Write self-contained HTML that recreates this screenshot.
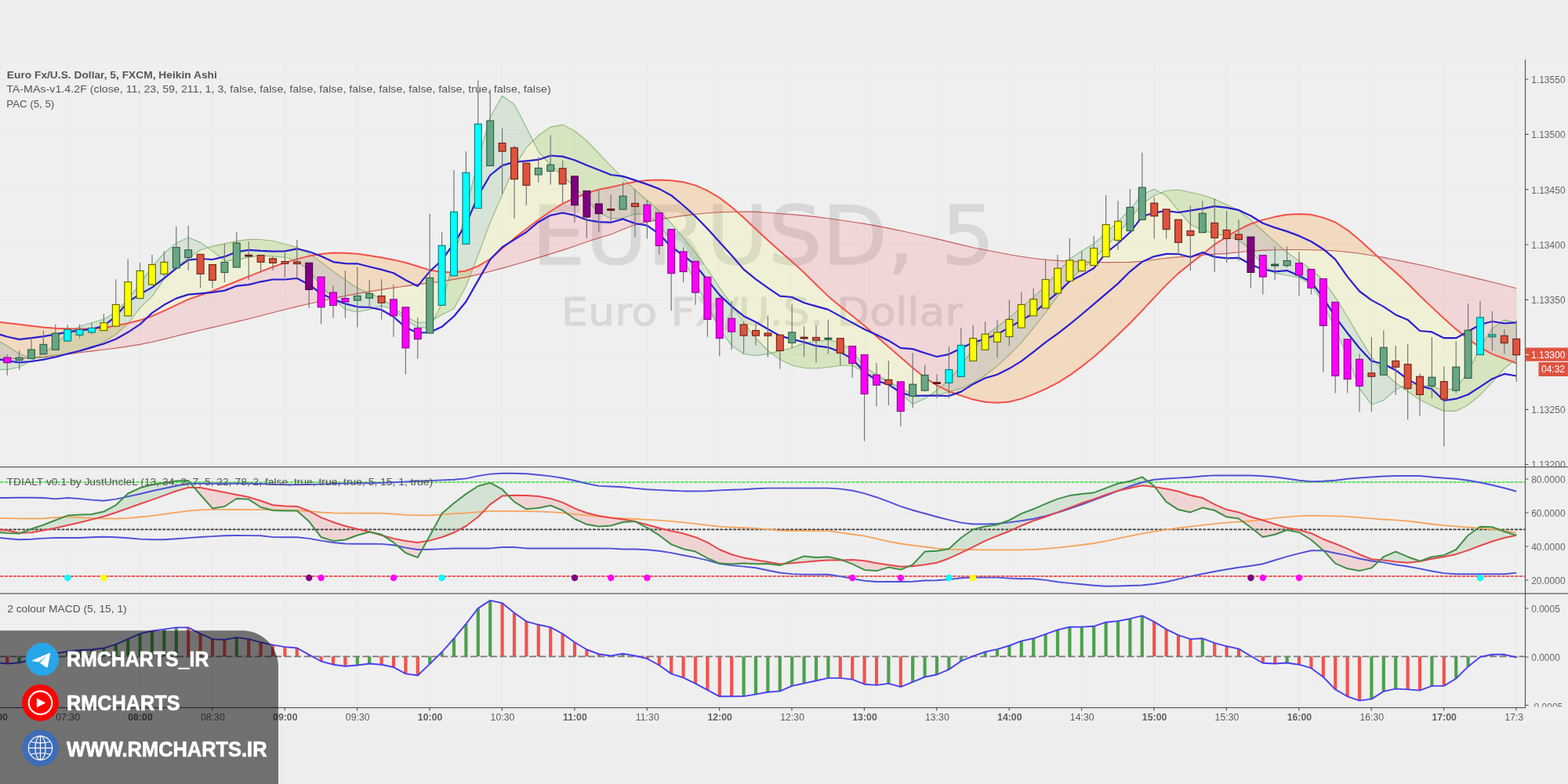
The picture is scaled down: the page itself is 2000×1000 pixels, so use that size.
<!DOCTYPE html>
<html lang="en"><head><meta charset="utf-8"><title>EURUSD 5 - Heikin Ashi chart</title>
<style>html,body{margin:0;padding:0;background:#ededeb;width:2000px;height:1000px}svg{display:block;font-family:"Liberation Sans","DejaVu Sans",sans-serif}.lg{font-size:13.5px;fill:#555}.ax{font-size:12px;fill:#666}.tm{font-size:12.3px;fill:#606060;text-anchor:middle}.wm{font-family:"DejaVu Sans","Liberation Sans",sans-serif;fill:#000;text-anchor:middle}.ov{font-weight:bold;font-size:27px;fill:#fff;stroke:#fff;stroke-width:.7px;stroke-linejoin:round}</style></head><body>
<svg width="2000" height="1000" viewBox="0 0 2000 1000">
<defs><clipPath id="cm"><rect x="0" y="76" width="1945.5" height="519.5"/></clipPath><clipPath id="ct"><rect x="0" y="595.5" width="1945.5" height="161.5"/></clipPath><clipPath id="cd"><rect x="0" y="757" width="1945.5" height="145.5"/></clipPath><clipPath id="cx"><rect x="0" y="902.5" width="1943.5" height="30"/></clipPath><clipPath id="cr"><rect x="1945.5" y="76" width="54.5" height="826.5"/></clipPath></defs>
<rect width="2000" height="1000" fill="#ededeb"/>
<rect x="0" y="76" width="2000" height="849" fill="#efefef"/>
<path d="M86,76V902.5M178.4,76V902.5M270.8,76V902.5M363.2,76V902.5M455.6,76V902.5M548,76V902.5M640.4,76V902.5M732.8,76V902.5M825.2,76V902.5M917.6,76V902.5M1010,76V902.5M1102.4,76V902.5M1194.8,76V902.5M1287.2,76V902.5M1379.6,76V902.5M1472,76V902.5M1564.4,76V902.5M1656.8,76V902.5M1749.2,76V902.5M1841.6,76V902.5M1934,76V902.5M0,101H1945.5M0,171.4H1945.5M0,241.7H1945.5M0,312H1945.5M0,382.3H1945.5M0,452.3H1945.5M0,522.3H1945.5M0,592.5H1945.5M0,611H1945.5M0,654H1945.5M0,697H1945.5M0,740H1945.5M0,776H1945.5M0,838H1945.5M0,899.5H1945.5" stroke="#e9e9e9" stroke-width="1" fill="none"/>
<g clip-path="url(#cm)">
<g opacity=".09" stroke="#000" stroke-linejoin="round">
<text class="wm" x="973.8" y="337.2" font-size="103.5" stroke-width="1.5" textLength="591" lengthAdjust="spacingAndGlyphs">EURUSD, 5</text>
<text class="wm" x="971.8" y="415" font-size="50.5" stroke-width="1.1" textLength="512" lengthAdjust="spacingAndGlyphs">Euro FX/U.S. Dollar</text>
</g>
</g>
<g clip-path="url(#cm)">
<path d="M-6.2,410.3 L9.2,412 L24.6,413.8 L40,415.8 L55.4,417.5 L70.8,418.8 L86.2,419.3 L101.6,419.5 L117,419.2 L132.4,417.9 L147.8,415.5 L163.2,412.3 L178.6,408.5 L194,403.2 L209.4,396.3 L224.8,389.1 L240.2,381.9 L255.6,376.5 L271,371.2 L286.4,365 L301.8,358.8 L317.2,352.6 L332.6,346.4 L348,340.5 L363.4,335.1 L378.8,330.4 L394.2,326.6 L409.6,324 L425,322.5 L440.4,322.8 L455.8,323.8 L471.2,325.9 L486.6,328.6 L502,331.4 L517.4,335 L532.8,339.8 L548.2,344.6 L563.6,347 L579,347.4 L594.4,345.5 L609.8,339.4 L625.2,330.5 L640.6,316.8 L656,303.9 L671.4,292 L686.8,280.3 L702.2,269.5 L717.6,259.9 L733,252.6 L748.4,246.5 L763.8,241.8 L779.2,238.7 L794.6,235.1 L810,231.8 L825.4,230.1 L840.8,229.4 L856.2,230.3 L871.6,232.3 L887,236.4 L902.4,243.1 L917.8,252.3 L933.2,264 L948.6,277.8 L964,292.3 L979.4,306.6 L994.8,320.3 L1010.2,333.7 L1025.6,347.8 L1041,363 L1056.4,377.9 L1071.8,390.7 L1087.2,403 L1102.6,415.6 L1118,429 L1133.4,442.4 L1148.8,455.7 L1164.2,469.3 L1179.6,481.7 L1195,491.7 L1210.4,499.2 L1225.8,504.6 L1241.2,509.6 L1256.6,512.8 L1272,513.7 L1287.4,512.5 L1302.8,508.6 L1318.2,502.9 L1333.6,496.2 L1349,488.4 L1364.4,478.7 L1379.8,467.4 L1395.2,455.3 L1410.6,441.5 L1426,427.1 L1441.4,412.3 L1456.8,396.1 L1472.2,379.6 L1487.6,363.4 L1503,348.6 L1518.4,336.3 L1533.8,324.4 L1549.2,311.8 L1564.6,302 L1580,292.8 L1595.4,285.5 L1610.8,280.4 L1626.2,276.6 L1641.6,273.7 L1657,272.9 L1672.4,273.7 L1687.8,277.6 L1703.2,283.5 L1718.6,293.3 L1734,305.9 L1749.4,320.1 L1764.8,334.2 L1780.2,347.5 L1795.6,361.7 L1811,377.2 L1826.4,391.9 L1841.8,406.3 L1857.2,419.9 L1872.6,432.3 L1888,443.2 L1903.4,451.6 L1918.8,457.5 L1934.2,463.2 L1934.2,367.7 L1918.8,363.7 L1903.4,359.8 L1888,356.1 L1872.6,352.4 L1857.2,348.7 L1841.8,345 L1826.4,341.3 L1811,337.7 L1795.6,334.6 L1780.2,331.5 L1764.8,328.4 L1749.4,325.7 L1734,323.3 L1718.6,321.5 L1703.2,320 L1687.8,319.1 L1672.4,318.7 L1657,318.5 L1641.6,318.5 L1626.2,318.8 L1610.8,319.4 L1595.4,320.3 L1580,321.7 L1564.6,323.4 L1549.2,324.1 L1533.8,325.1 L1518.4,326.8 L1503,327.9 L1487.6,329.3 L1472.2,331.3 L1456.8,333.2 L1441.4,334.4 L1426,334.5 L1410.6,334.6 L1395.2,334.5 L1379.8,333.9 L1364.4,333.3 L1349,332.4 L1333.6,331.2 L1318.2,329.5 L1302.8,327.3 L1287.4,324.7 L1272,321.8 L1256.6,318.8 L1241.2,315.7 L1225.8,312.1 L1210.4,308.4 L1195,304.6 L1179.6,301 L1164.2,297.7 L1148.8,294.3 L1133.4,291.1 L1118,288.1 L1102.6,285.4 L1087.2,283 L1071.8,280.7 L1056.4,278.5 L1041,276.6 L1025.6,274.9 L1010.2,273.6 L994.8,272.5 L979.4,271.2 L964,270.1 L948.6,270 L933.2,270.3 L917.8,270.7 L902.4,271.7 L887,273.3 L871.6,275.1 L856.2,277.5 L840.8,280.1 L825.4,283.1 L810,286.8 L794.6,292.5 L779.2,299 L763.8,303.6 L748.4,308.5 L733,314 L717.6,319.1 L702.2,323.9 L686.8,328.6 L671.4,333.2 L656,337.7 L640.6,342.1 L625.2,346.2 L609.8,350.1 L594.4,353.6 L579,356.4 L563.6,358.7 L548.2,360.9 L532.8,362.9 L517.4,364.9 L502,367.1 L486.6,369.4 L471.2,371.9 L455.8,374.6 L440.4,377.4 L425,380.6 L409.6,384 L394.2,387.5 L378.8,391.1 L363.4,394.8 L348,398.8 L332.6,402.8 L317.2,406.7 L301.8,410.4 L286.4,414 L271,417.6 L255.6,421.2 L240.2,424.9 L224.8,428.8 L209.4,432.6 L194,436.2 L178.6,439.4 L163.2,441.9 L147.8,444.1 L132.4,446 L117,447.9 L101.6,449.8 L86.2,451.9 L70.8,454 L55.4,455.6 L40,456.5 L24.6,457.1 L9.2,457.7 L-6.2,458.2Z" fill="#ff0000" fill-opacity=".1"/>
<path d="M-6.2,432.1 L9.2,441.3 L24.6,451.3 L40,456.7 L55.4,455.9 L70.8,452.8 L86.2,451.2 L101.6,448.7 L117,443.9 L132.4,436.3 L147.8,426.5 L163.2,413 L178.6,392.6 L194,378.2 L209.4,355.8 L224.8,340.4 L240.2,329 L255.6,318.7 L271,314.1 L286.4,310.9 L301.8,307.6 L317.2,305.4 L332.6,305.5 L348,307.3 L363.4,311.3 L378.8,315.6 L394.2,323.5 L409.6,334.4 L425,345.9 L440.4,357.1 L455.8,367.4 L471.2,374.3 L486.6,380.8 L502,391.5 L517.4,403.8 L532.8,411.8 L548.2,410.5 L563.6,401.5 L579,393.7 L594.4,365 L609.8,325.5 L625.2,283.9 L640.6,248.4 L656,213.1 L671.4,188.3 L686.8,172.6 L702.2,162.1 L717.6,159.1 L733,167 L748.4,179.5 L763.8,195.6 L779.2,211.9 L794.6,227.2 L810,242.3 L825.4,255.5 L840.8,268.6 L856.2,284.8 L871.6,303.2 L887,321.9 L902.4,343.5 L917.8,366.8 L933.2,388.5 L948.6,411.5 L964,431.5 L979.4,447 L994.8,458.6 L1010.2,466 L1025.6,469.3 L1041,470 L1056.4,468.5 L1071.8,466.3 L1087.2,466.2 L1102.6,474.8 L1118,481.6 L1133.4,486.8 L1148.8,494.6 L1164.2,503.6 L1179.6,504.9 L1195,504.3 L1210.4,499.9 L1225.8,495.4 L1241.2,488.5 L1256.6,478.7 L1272,466.9 L1287.4,452.6 L1302.8,437.1 L1318.2,418.2 L1333.6,399 L1349,377.6 L1364.4,357.9 L1379.8,342.9 L1395.2,330.7 L1410.6,314.4 L1426,298.7 L1441.4,278.9 L1456.8,260.1 L1472.2,249.5 L1487.6,243.3 L1503,242.3 L1518.4,245.2 L1533.8,248.8 L1549.2,253.9 L1564.6,261.1 L1580,268.2 L1595.4,280.7 L1610.8,294.5 L1626.2,308.4 L1641.6,321.7 L1657,332.9 L1672.4,343.7 L1687.8,357.5 L1703.2,379.1 L1718.6,403.8 L1734,430.1 L1749.4,455.3 L1764.8,474.7 L1780.2,488.3 L1795.6,499.2 L1811,509.9 L1826.4,517.6 L1841.8,524.4 L1857.2,524.4 L1872.6,516.4 L1888,503.9 L1903.4,487.4 L1918.8,470 L1934.2,457.9 L1934.2,463.2 L1918.8,457.5 L1903.4,451.6 L1888,443.2 L1872.6,432.3 L1857.2,419.9 L1841.8,406.3 L1826.4,391.9 L1811,377.2 L1795.6,361.7 L1780.2,347.5 L1764.8,334.2 L1749.4,320.1 L1734,305.9 L1718.6,293.3 L1703.2,283.5 L1687.8,277.6 L1672.4,273.7 L1657,272.9 L1641.6,273.7 L1626.2,276.6 L1610.8,280.4 L1595.4,285.5 L1580,292.8 L1564.6,302 L1549.2,311.8 L1533.8,324.4 L1518.4,336.3 L1503,348.6 L1487.6,363.4 L1472.2,379.6 L1456.8,396.1 L1441.4,412.3 L1426,427.1 L1410.6,441.5 L1395.2,455.3 L1379.8,467.4 L1364.4,478.7 L1349,488.4 L1333.6,496.2 L1318.2,502.9 L1302.8,508.6 L1287.4,512.5 L1272,513.7 L1256.6,512.8 L1241.2,509.6 L1225.8,504.6 L1210.4,499.2 L1195,491.7 L1179.6,481.7 L1164.2,469.3 L1148.8,455.7 L1133.4,442.4 L1118,429 L1102.6,415.6 L1087.2,403 L1071.8,390.7 L1056.4,377.9 L1041,363 L1025.6,347.8 L1010.2,333.7 L994.8,320.3 L979.4,306.6 L964,292.3 L948.6,277.8 L933.2,264 L917.8,252.3 L902.4,243.1 L887,236.4 L871.6,232.3 L856.2,230.3 L840.8,229.4 L825.4,230.1 L810,231.8 L794.6,235.1 L779.2,238.7 L763.8,241.8 L748.4,246.5 L733,252.6 L717.6,259.9 L702.2,269.5 L686.8,280.3 L671.4,292 L656,303.9 L640.6,316.8 L625.2,330.5 L609.8,339.4 L594.4,345.5 L579,347.4 L563.6,347 L548.2,344.6 L532.8,339.8 L517.4,335 L502,331.4 L486.6,328.6 L471.2,325.9 L455.8,323.8 L440.4,322.8 L425,322.5 L409.6,324 L394.2,326.6 L378.8,330.4 L363.4,335.1 L348,340.5 L332.6,346.4 L317.2,352.6 L301.8,358.8 L286.4,365 L271,371.2 L255.6,376.5 L240.2,381.9 L224.8,389.1 L209.4,396.3 L194,403.2 L178.6,408.5 L163.2,412.3 L147.8,415.5 L132.4,417.9 L117,419.2 L101.6,419.5 L86.2,419.3 L70.8,418.8 L55.4,417.5 L40,415.8 L24.6,413.8 L9.2,412 L-6.2,410.3Z" fill="#ffff00" fill-opacity=".1"/>
<path d="M-6.2,471.4 L9.2,471.4 L24.6,468.2 L40,460 L55.4,451.1 L70.8,439.1 L86.2,424.9 L101.6,416.2 L117,411.5 L132.4,407.4 L147.8,397.9 L163.2,381.5 L178.6,362.1 L194,340.2 L209.4,322.6 L224.8,310.1 L240.2,303 L255.6,309.1 L271,320.4 L286.4,332.6 L301.8,331.9 L317.2,328.1 L332.6,326 L348,326.9 L363.4,328.3 L378.8,332.7 L394.2,345.5 L409.6,364.3 L425,380.9 L440.4,394.8 L455.8,398 L471.2,394.6 L486.6,390 L502,394.5 L517.4,408.1 L532.8,417.6 L548.2,418.1 L563.6,387.1 L579,331 L594.4,266.8 L609.8,204.3 L625.2,149.5 L640.6,122.3 L656,133.1 L671.4,162.6 L686.8,193.7 L702.2,210.5 L717.6,224.5 L733,238.5 L748.4,255.3 L763.8,271.1 L779.2,278.8 L794.6,278.4 L810,272.9 L825.4,273.5 L840.8,286 L856.2,307.1 L871.6,331.2 L887,359.3 L902.4,389.9 L917.8,419.5 L933.2,440.7 L948.6,451.5 L964,453.7 L979.4,451.4 L994.8,447.6 L1010.2,443.7 L1025.6,437.6 L1041,435 L1056.4,433.8 L1071.8,437 L1087.2,447.2 L1102.6,468 L1118,477.8 L1133.4,486.3 L1148.8,501.6 L1164.2,515.6 L1179.6,508.6 L1195,497.7 L1210.4,484.8 L1225.8,466.9 L1241.2,444.8 L1256.6,428.3 L1272,417 L1287.4,405.1 L1302.8,391.4 L1318.2,379.4 L1333.6,364.4 L1349,347.4 L1364.4,330.5 L1379.8,320.1 L1395.2,311.1 L1410.6,297 L1426,282.8 L1441.4,267 L1456.8,248.2 L1472.2,241.3 L1487.6,249.8 L1503,268.7 L1518.4,286.2 L1533.8,293.8 L1549.2,297.6 L1564.6,301.2 L1580,306.3 L1595.4,319 L1610.8,338.3 L1626.2,348.4 L1641.6,351.3 L1657,354.2 L1672.4,362.5 L1687.8,387 L1703.2,419.4 L1718.6,454.2 L1734,495.6 L1749.4,516.2 L1764.8,510.6 L1780.2,497.2 L1795.6,489.8 L1811,490.7 L1826.4,493.1 L1841.8,497.5 L1857.2,495.1 L1872.6,474.6 L1888,442.9 L1903.4,419 L1918.8,408.1 L1934.2,411.6 L1934.2,457.9 L1918.8,470 L1903.4,487.4 L1888,503.9 L1872.6,516.4 L1857.2,524.4 L1841.8,524.4 L1826.4,517.6 L1811,509.9 L1795.6,499.2 L1780.2,488.3 L1764.8,474.7 L1749.4,455.3 L1734,430.1 L1718.6,403.8 L1703.2,379.1 L1687.8,357.5 L1672.4,343.7 L1657,332.9 L1641.6,321.7 L1626.2,308.4 L1610.8,294.5 L1595.4,280.7 L1580,268.2 L1564.6,261.1 L1549.2,253.9 L1533.8,248.8 L1518.4,245.2 L1503,242.3 L1487.6,243.3 L1472.2,249.5 L1456.8,260.1 L1441.4,278.9 L1426,298.7 L1410.6,314.4 L1395.2,330.7 L1379.8,342.9 L1364.4,357.9 L1349,377.6 L1333.6,399 L1318.2,418.2 L1302.8,437.1 L1287.4,452.6 L1272,466.9 L1256.6,478.7 L1241.2,488.5 L1225.8,495.4 L1210.4,499.9 L1195,504.3 L1179.6,504.9 L1164.2,503.6 L1148.8,494.6 L1133.4,486.8 L1118,481.6 L1102.6,474.8 L1087.2,466.2 L1071.8,466.3 L1056.4,468.5 L1041,470 L1025.6,469.3 L1010.2,466 L994.8,458.6 L979.4,447 L964,431.5 L948.6,411.5 L933.2,388.5 L917.8,366.8 L902.4,343.5 L887,321.9 L871.6,303.2 L856.2,284.8 L840.8,268.6 L825.4,255.5 L810,242.3 L794.6,227.2 L779.2,211.9 L763.8,195.6 L748.4,179.5 L733,167 L717.6,159.1 L702.2,162.1 L686.8,172.6 L671.4,188.3 L656,213.1 L640.6,248.4 L625.2,283.9 L609.8,325.5 L594.4,365 L579,393.7 L563.6,401.5 L548.2,410.5 L532.8,411.8 L517.4,403.8 L502,391.5 L486.6,380.8 L471.2,374.3 L455.8,367.4 L440.4,357.1 L425,345.9 L409.6,334.4 L394.2,323.5 L378.8,315.6 L363.4,311.3 L348,307.3 L332.6,305.5 L317.2,305.4 L301.8,307.6 L286.4,310.9 L271,314.1 L255.6,318.7 L240.2,329 L224.8,340.4 L209.4,355.8 L194,378.2 L178.6,392.6 L163.2,413 L147.8,426.5 L132.4,436.3 L117,443.9 L101.6,448.7 L86.2,451.2 L70.8,452.8 L55.4,455.9 L40,456.7 L24.6,451.3 L9.2,441.3 L-6.2,432.1Z" fill="#008000" fill-opacity=".1"/>
<path d="M-6.2,458.2 L9.2,457.7 L24.6,457.1 L40,456.5 L55.4,455.6 L70.8,454 L86.2,451.9 L101.6,449.8 L117,447.9 L132.4,446 L147.8,444.1 L163.2,441.9 L178.6,439.4 L194,436.2 L209.4,432.6 L224.8,428.8 L240.2,424.9 L255.6,421.2 L271,417.6 L286.4,414 L301.8,410.4 L317.2,406.7 L332.6,402.8 L348,398.8 L363.4,394.8 L378.8,391.1 L394.2,387.5 L409.6,384 L425,380.6 L440.4,377.4 L455.8,374.6 L471.2,371.9 L486.6,369.4 L502,367.1 L517.4,364.9 L532.8,362.9 L548.2,360.9 L563.6,358.7 L579,356.4 L594.4,353.6 L609.8,350.1 L625.2,346.2 L640.6,342.1 L656,337.7 L671.4,333.2 L686.8,328.6 L702.2,323.9 L717.6,319.1 L733,314 L748.4,308.5 L763.8,303.6 L779.2,299 L794.6,292.5 L810,286.8 L825.4,283.1 L840.8,280.1 L856.2,277.5 L871.6,275.1 L887,273.3 L902.4,271.7 L917.8,270.7 L933.2,270.3 L948.6,270 L964,270.1 L979.4,271.2 L994.8,272.5 L1010.2,273.6 L1025.6,274.9 L1041,276.6 L1056.4,278.5 L1071.8,280.7 L1087.2,283 L1102.6,285.4 L1118,288.1 L1133.4,291.1 L1148.8,294.3 L1164.2,297.7 L1179.6,301 L1195,304.6 L1210.4,308.4 L1225.8,312.1 L1241.2,315.7 L1256.6,318.8 L1272,321.8 L1287.4,324.7 L1302.8,327.3 L1318.2,329.5 L1333.6,331.2 L1349,332.4 L1364.4,333.3 L1379.8,333.9 L1395.2,334.5 L1410.6,334.6 L1426,334.5 L1441.4,334.4 L1456.8,333.2 L1472.2,331.3 L1487.6,329.3 L1503,327.9 L1518.4,326.8 L1533.8,325.1 L1549.2,324.1 L1564.6,323.4 L1580,321.7 L1595.4,320.3 L1610.8,319.4 L1626.2,318.8 L1641.6,318.5 L1657,318.5 L1672.4,318.7 L1687.8,319.1 L1703.2,320 L1718.6,321.5 L1734,323.3 L1749.4,325.7 L1764.8,328.4 L1780.2,331.5 L1795.6,334.6 L1811,337.7 L1826.4,341.3 L1841.8,345 L1857.2,348.7 L1872.6,352.4 L1888,356.1 L1903.4,359.8 L1918.8,363.7 L1934.2,367.7" fill="none" stroke="#b22222" stroke-opacity=".7" stroke-width="1.1" stroke-linejoin="round"/>
<path d="M-6.2,432.1 L9.2,441.3 L24.6,451.3 L40,456.7 L55.4,455.9 L70.8,452.8 L86.2,451.2 L101.6,448.7 L117,443.9 L132.4,436.3 L147.8,426.5 L163.2,413 L178.6,392.6 L194,378.2 L209.4,355.8 L224.8,340.4 L240.2,329 L255.6,318.7 L271,314.1 L286.4,310.9 L301.8,307.6 L317.2,305.4 L332.6,305.5 L348,307.3 L363.4,311.3 L378.8,315.6 L394.2,323.5 L409.6,334.4 L425,345.9 L440.4,357.1 L455.8,367.4 L471.2,374.3 L486.6,380.8 L502,391.5 L517.4,403.8 L532.8,411.8 L548.2,410.5 L563.6,401.5 L579,393.7 L594.4,365 L609.8,325.5 L625.2,283.9 L640.6,248.4 L656,213.1 L671.4,188.3 L686.8,172.6 L702.2,162.1 L717.6,159.1 L733,167 L748.4,179.5 L763.8,195.6 L779.2,211.9 L794.6,227.2 L810,242.3 L825.4,255.5 L840.8,268.6 L856.2,284.8 L871.6,303.2 L887,321.9 L902.4,343.5 L917.8,366.8 L933.2,388.5 L948.6,411.5 L964,431.5 L979.4,447 L994.8,458.6 L1010.2,466 L1025.6,469.3 L1041,470 L1056.4,468.5 L1071.8,466.3 L1087.2,466.2 L1102.6,474.8 L1118,481.6 L1133.4,486.8 L1148.8,494.6 L1164.2,503.6 L1179.6,504.9 L1195,504.3 L1210.4,499.9 L1225.8,495.4 L1241.2,488.5 L1256.6,478.7 L1272,466.9 L1287.4,452.6 L1302.8,437.1 L1318.2,418.2 L1333.6,399 L1349,377.6 L1364.4,357.9 L1379.8,342.9 L1395.2,330.7 L1410.6,314.4 L1426,298.7 L1441.4,278.9 L1456.8,260.1 L1472.2,249.5 L1487.6,243.3 L1503,242.3 L1518.4,245.2 L1533.8,248.8 L1549.2,253.9 L1564.6,261.1 L1580,268.2 L1595.4,280.7 L1610.8,294.5 L1626.2,308.4 L1641.6,321.7 L1657,332.9 L1672.4,343.7 L1687.8,357.5 L1703.2,379.1 L1718.6,403.8 L1734,430.1 L1749.4,455.3 L1764.8,474.7 L1780.2,488.3 L1795.6,499.2 L1811,509.9 L1826.4,517.6 L1841.8,524.4 L1857.2,524.4 L1872.6,516.4 L1888,503.9 L1903.4,487.4 L1918.8,470 L1934.2,457.9" fill="none" stroke="#5a9338" stroke-opacity=".55" stroke-width="1.15" stroke-linejoin="round"/>
<path d="M-6.2,471.4 L9.2,471.4 L24.6,468.2 L40,460 L55.4,451.1 L70.8,439.1 L86.2,424.9 L101.6,416.2 L117,411.5 L132.4,407.4 L147.8,397.9 L163.2,381.5 L178.6,362.1 L194,340.2 L209.4,322.6 L224.8,310.1 L240.2,303 L255.6,309.1 L271,320.4 L286.4,332.6 L301.8,331.9 L317.2,328.1 L332.6,326 L348,326.9 L363.4,328.3 L378.8,332.7 L394.2,345.5 L409.6,364.3 L425,380.9 L440.4,394.8 L455.8,398 L471.2,394.6 L486.6,390 L502,394.5 L517.4,408.1 L532.8,417.6 L548.2,418.1 L563.6,387.1 L579,331 L594.4,266.8 L609.8,204.3 L625.2,149.5 L640.6,122.3 L656,133.1 L671.4,162.6 L686.8,193.7 L702.2,210.5 L717.6,224.5 L733,238.5 L748.4,255.3 L763.8,271.1 L779.2,278.8 L794.6,278.4 L810,272.9 L825.4,273.5 L840.8,286 L856.2,307.1 L871.6,331.2 L887,359.3 L902.4,389.9 L917.8,419.5 L933.2,440.7 L948.6,451.5 L964,453.7 L979.4,451.4 L994.8,447.6 L1010.2,443.7 L1025.6,437.6 L1041,435 L1056.4,433.8 L1071.8,437 L1087.2,447.2 L1102.6,468 L1118,477.8 L1133.4,486.3 L1148.8,501.6 L1164.2,515.6 L1179.6,508.6 L1195,497.7 L1210.4,484.8 L1225.8,466.9 L1241.2,444.8 L1256.6,428.3 L1272,417 L1287.4,405.1 L1302.8,391.4 L1318.2,379.4 L1333.6,364.4 L1349,347.4 L1364.4,330.5 L1379.8,320.1 L1395.2,311.1 L1410.6,297 L1426,282.8 L1441.4,267 L1456.8,248.2 L1472.2,241.3 L1487.6,249.8 L1503,268.7 L1518.4,286.2 L1533.8,293.8 L1549.2,297.6 L1564.6,301.2 L1580,306.3 L1595.4,319 L1610.8,338.3 L1626.2,348.4 L1641.6,351.3 L1657,354.2 L1672.4,362.5 L1687.8,387 L1703.2,419.4 L1718.6,454.2 L1734,495.6 L1749.4,516.2 L1764.8,510.6 L1780.2,497.2 L1795.6,489.8 L1811,490.7 L1826.4,493.1 L1841.8,497.5 L1857.2,495.1 L1872.6,474.6 L1888,442.9 L1903.4,419 L1918.8,408.1 L1934.2,411.6" fill="none" stroke="#3f9a4a" stroke-opacity=".55" stroke-width="1.15" stroke-linejoin="round"/>
<path d="M-6.2,410.3 L9.2,412 L24.6,413.8 L40,415.8 L55.4,417.5 L70.8,418.8 L86.2,419.3 L101.6,419.5 L117,419.2 L132.4,417.9 L147.8,415.5 L163.2,412.3 L178.6,408.5 L194,403.2 L209.4,396.3 L224.8,389.1 L240.2,381.9 L255.6,376.5 L271,371.2 L286.4,365 L301.8,358.8 L317.2,352.6 L332.6,346.4 L348,340.5 L363.4,335.1 L378.8,330.4 L394.2,326.6 L409.6,324 L425,322.5 L440.4,322.8 L455.8,323.8 L471.2,325.9 L486.6,328.6 L502,331.4 L517.4,335 L532.8,339.8 L548.2,344.6 L563.6,347 L579,347.4 L594.4,345.5 L609.8,339.4 L625.2,330.5 L640.6,316.8 L656,303.9 L671.4,292 L686.8,280.3 L702.2,269.5 L717.6,259.9 L733,252.6 L748.4,246.5 L763.8,241.8 L779.2,238.7 L794.6,235.1 L810,231.8 L825.4,230.1 L840.8,229.4 L856.2,230.3 L871.6,232.3 L887,236.4 L902.4,243.1 L917.8,252.3 L933.2,264 L948.6,277.8 L964,292.3 L979.4,306.6 L994.8,320.3 L1010.2,333.7 L1025.6,347.8 L1041,363 L1056.4,377.9 L1071.8,390.7 L1087.2,403 L1102.6,415.6 L1118,429 L1133.4,442.4 L1148.8,455.7 L1164.2,469.3 L1179.6,481.7 L1195,491.7 L1210.4,499.2 L1225.8,504.6 L1241.2,509.6 L1256.6,512.8 L1272,513.7 L1287.4,512.5 L1302.8,508.6 L1318.2,502.9 L1333.6,496.2 L1349,488.4 L1364.4,478.7 L1379.8,467.4 L1395.2,455.3 L1410.6,441.5 L1426,427.1 L1441.4,412.3 L1456.8,396.1 L1472.2,379.6 L1487.6,363.4 L1503,348.6 L1518.4,336.3 L1533.8,324.4 L1549.2,311.8 L1564.6,302 L1580,292.8 L1595.4,285.5 L1610.8,280.4 L1626.2,276.6 L1641.6,273.7 L1657,272.9 L1672.4,273.7 L1687.8,277.6 L1703.2,283.5 L1718.6,293.3 L1734,305.9 L1749.4,320.1 L1764.8,334.2 L1780.2,347.5 L1795.6,361.7 L1811,377.2 L1826.4,391.9 L1841.8,406.3 L1857.2,419.9 L1872.6,432.3 L1888,443.2 L1903.4,451.6 L1918.8,457.5 L1934.2,463.2" fill="none" stroke="#f4504a" stroke-width="2.0" stroke-linejoin="round"/>
<path d="M-6.2,424.9 L9.2,429.5 L24.6,432.8 L40,431.1 L55.4,429.2 L70.8,426.3 L86.2,423.6 L101.6,421.3 L117,419.9 L132.4,415.7 L147.8,403.4 L163.2,385.1 L178.6,375.3 L194,366.6 L209.4,354.9 L224.8,342.4 L240.2,331.6 L255.6,330 L271,331 L286.4,327.4 L301.8,321.3 L317.2,318.8 L332.6,319.9 L348,320.6 L363.4,320.3 L378.8,317.3 L394.2,321 L409.6,326.8 L425,334.1 L440.4,336.2 L455.8,336.3 L471.2,340.2 L486.6,343.9 L502,348.3 L517.4,357.2 L532.8,364.9 L548.2,346.1 L563.6,332 L579,310.1 L594.4,286.1 L609.8,249.9 L625.2,223.5 L640.6,211.1 L656,206.6 L671.4,205.3 L686.8,203.7 L702.2,198.5 L717.6,199.6 L733,204.2 L748.4,210.8 L763.8,216.8 L779.2,223 L794.6,224.9 L810,229.9 L825.4,235.1 L840.8,240.9 L856.2,249.2 L871.6,262 L887,276 L902.4,291.8 L917.8,308.8 L933.2,325.8 L948.6,343.6 L964,356.1 L979.4,367.1 L994.8,377.6 L1010.2,379 L1025.6,386.3 L1041,390.6 L1056.4,394.9 L1071.8,403.4 L1087.2,411.6 L1102.6,420 L1118,426.9 L1133.4,434.4 L1148.8,443.9 L1164.2,445.1 L1179.6,450.3 L1195,455 L1210.4,451.8 L1225.8,444.3 L1241.2,436.8 L1256.6,432.2 L1272,426.4 L1287.4,417.6 L1302.8,408.6 L1318.2,399.6 L1333.6,386 L1349,373.4 L1364.4,358.8 L1379.8,351 L1395.2,342.1 L1410.6,322.6 L1426,310.5 L1441.4,296.3 L1456.8,276.3 L1472.2,271.3 L1487.6,268.8 L1503,271 L1518.4,268.6 L1533.8,266.2 L1549.2,263.1 L1564.6,264.9 L1580,267.9 L1595.4,275.2 L1610.8,284.8 L1626.2,290.4 L1641.6,295.1 L1657,300.9 L1672.4,308 L1687.8,317.7 L1703.2,330.8 L1718.6,352.9 L1734,371.5 L1749.4,382.9 L1764.8,391.1 L1780.2,401.4 L1795.6,407.9 L1811,422 L1826.4,423.4 L1841.8,431.2 L1857.2,431.2 L1872.6,422.8 L1888,414 L1903.4,410 L1918.8,412.5 L1934.2,411.4" fill="none" stroke="#2a1fd0" stroke-width="2.2" stroke-linejoin="round"/>
<path d="M-6.2,457.6 L9.2,460.2 L24.6,462.3 L40,461 L55.4,458.6 L70.8,455.5 L86.2,451.3 L101.6,447.5 L117,442.9 L132.4,438.5 L147.8,432.5 L163.2,423.8 L178.6,413.7 L194,399.1 L209.4,388.8 L224.8,380.6 L240.2,375.6 L255.6,374.3 L271,372.9 L286.4,370.6 L301.8,364.7 L317.2,363.1 L332.6,359.3 L348,356.5 L363.4,356.5 L378.8,355 L394.2,362.9 L409.6,374.5 L425,381.6 L440.4,387.4 L455.8,391.3 L471.2,392 L486.6,395.2 L502,404 L517.4,417.8 L532.8,424.5 L548.2,424 L563.6,416.8 L579,403.5 L594.4,384.7 L609.8,357.6 L625.2,331 L640.6,315.2 L656,305.6 L671.4,296 L686.8,283.2 L702.2,274.6 L717.6,271.5 L733,274.7 L748.4,280.5 L763.8,283.2 L779.2,283.7 L794.6,279.4 L810,285 L825.4,287.6 L840.8,298.3 L856.2,315.2 L871.6,325.7 L887,338.2 L902.4,357.1 L917.8,376.4 L933.2,390.6 L948.6,403.2 L964,410.8 L979.4,419.7 L994.8,428.4 L1010.2,432.6 L1025.6,436.4 L1041,441.2 L1056.4,443.1 L1071.8,449.1 L1087.2,457.9 L1102.6,474.4 L1118,485.3 L1133.4,490.6 L1148.8,500.8 L1164.2,505.2 L1179.6,504.5 L1195,504.6 L1210.4,505 L1225.8,499.6 L1241.2,489.9 L1256.6,482.2 L1272,477.8 L1287.4,470.1 L1302.8,460.6 L1318.2,448.9 L1333.6,436.7 L1349,425.7 L1364.4,413.7 L1379.8,401 L1395.2,387.8 L1410.6,374.9 L1426,361.6 L1441.4,346.3 L1456.8,333.9 L1472.2,327.1 L1487.6,323.8 L1503,324 L1518.4,328 L1533.8,321.9 L1549.2,327.6 L1564.6,329.4 L1580,328.8 L1595.4,337.2 L1610.8,343.7 L1626.2,346.3 L1641.6,345.1 L1657,351.8 L1672.4,359.4 L1687.8,380.1 L1703.2,404.2 L1718.6,424.8 L1734,444 L1749.4,460.5 L1764.8,464.2 L1780.2,472.2 L1795.6,483.9 L1811,492.1 L1826.4,496.3 L1841.8,511 L1857.2,508.7 L1872.6,503.3 L1888,493.4 L1903.4,483.2 L1918.8,476.9 L1934.2,479.5" fill="none" stroke="#2a1fd0" stroke-width="2.2" stroke-linejoin="round"/>
<path d="M9.2,452.2V478.8M24.6,447V471.8M40,431V457.4M55.4,421.4V451.6M70.8,413.6V446.2M86.2,414.2V435M101.6,413.4V431.4M117,411.8V426.6M132.4,400.2V421.6M147.8,356.2V416.2M163.2,330.6V402.9M178.6,335V380.6M194,325V363M209.4,320.6V352.5M224.8,288.5V341.9M240.2,287.5V345M255.6,324.4V366.9M271,337.5V367.5M286.4,311V360M301.8,296V341M317.2,308V357M332.6,325.6V347.5M348,327V344.8M363.4,322.5V353.8M378.8,306V353.8M394.2,335.3V393M409.6,353.2V413.2M425,364.2V405.6M440.4,345V405.6M455.8,340.6V417.5M471.2,357.3V392.5M486.6,356.3V407.5M502,362.8V429.7M517.4,391.9V477.5M532.8,405V457.5M548.2,273V425M563.6,296.2V389.4M579,216.9V351.9M594.4,193V311.4M609.8,102.5V265.6M625.2,113.8V211.5M640.6,163.8V247.5M656,186V278.8M671.4,208.1V261.9M686.8,200V233.1M702.2,172.5V235.6M717.6,204.4V258.8M733,224.8V283.8M748.4,243.5V303.8M763.8,241.2V296M779.2,248V283.8M794.6,231.9V267.1M810,241V302.5M825.4,255V304.4M840.8,271.5V324.8M856.2,292.5V396.2M871.6,315.6V360M887,333.4V388.8M902.4,353.4V429.7M917.8,380.6V454.4M933.2,383.8V446.2M948.6,410V451.2M964,413.8V440.6M979.4,402.5V455.6M994.8,427.2V470.6M1010.2,387.4V443.8M1025.6,416.2V455M1041,415V462.5M1056.4,408V451.5M1071.8,431.5V466.2M1087.2,441.5V481.4M1102.6,452.5V562.5M1118,463.1V518.5M1133.4,460V516.9M1148.8,486.9V543.8M1164.2,450V520.6M1179.6,465.2V499.4M1195,477.5V508M1210.4,441.9V508M1225.8,418.1V480.4M1241.2,414.8V460.4M1256.6,410V446.2M1272,408V456.2M1287.4,382.5V441.2M1302.8,372.5V418.1M1318.2,368.1V402.9M1333.6,330V393.1M1349,325V374M1364.4,304V358.5M1379.8,320.6V347M1395.2,301.2V338.5M1410.6,249V327.5M1426,256.2V318.8M1441.4,241.2V294.4M1456.8,194.8V280.2M1472.2,251.9V304.8M1487.6,266.9V304.8M1503,280.2V324.4M1518.4,262.2V345M1533.8,256.2V296.6M1549.2,253.1V347M1564.6,268.8V335M1580,280V332.5M1595.4,302.2V367.5M1610.8,325.6V375.6M1626.2,314.4V356.9M1641.6,314.4V341.2M1657,321V377.5M1672.4,343.5V375.6M1687.8,355.6V475M1703.2,385.4V501.2M1718.6,432.8V501.2M1734,451.2V525.6M1749.4,430V525M1764.8,421.2V478.3M1780.2,441.1V503.8M1795.6,438.8V535M1811,476.2V530.6M1826.4,430V508.1M1841.8,467.5V569.4M1857.2,435V501.4M1872.6,387.2V482.5M1888,383.9V452.5M1903.4,396.9V447.5M1918.8,420.1V451.2M1934.2,409V486.9" stroke="#777" stroke-width="1.2" fill="none"/>
<g fill="#ff00ff" stroke="#8a0a8a" stroke-width="1.15"><rect x="4.8" y="456" width="8.8" height="6.6"/><rect x="405.2" y="353.2" width="8.8" height="38.6"/><rect x="420.6" y="373" width="8.8" height="16.5"/><rect x="436" y="380.6" width="8.8" height="4.4"/><rect x="497.6" y="381.9" width="8.8" height="20.9"/><rect x="513" y="391.9" width="8.8" height="51.9"/><rect x="528.4" y="418.5" width="8.8" height="14.1"/><rect x="821" y="261.2" width="8.8" height="21.2"/><rect x="836.4" y="271.5" width="8.8" height="41.9"/><rect x="851.8" y="292.5" width="8.8" height="56.2"/><rect x="867.2" y="321" width="8.8" height="25.5"/><rect x="882.6" y="333.4" width="8.8" height="39.7"/><rect x="898" y="353.4" width="8.8" height="53.9"/><rect x="913.4" y="380.6" width="8.8" height="50.9"/><rect x="928.8" y="406.2" width="8.8" height="16.9"/><rect x="1082.8" y="441.5" width="8.8" height="22"/><rect x="1098.2" y="452.5" width="8.8" height="50"/><rect x="1113.6" y="478.1" width="8.8" height="13.1"/><rect x="1144.4" y="486.9" width="8.8" height="37.7"/><rect x="1606.4" y="325.6" width="8.8" height="27.5"/><rect x="1652.6" y="335.6" width="8.8" height="15.4"/><rect x="1668" y="343.5" width="8.8" height="23.8"/><rect x="1683.4" y="355.6" width="8.8" height="59.8"/><rect x="1698.8" y="385.4" width="8.8" height="94"/><rect x="1714.2" y="432.8" width="8.8" height="50.8"/><rect x="1729.6" y="458.3" width="8.8" height="34.2"/></g>
<g fill="#69a685" stroke="#2f5f47" stroke-width="1.15"><rect x="20.2" y="456.2" width="8.8" height="3.2"/><rect x="35.6" y="446" width="8.8" height="11.4"/><rect x="51" y="439.4" width="8.8" height="12.2"/><rect x="66.4" y="425" width="8.8" height="21.2"/><rect x="220.4" y="315.6" width="8.8" height="26.3"/><rect x="235.8" y="318.8" width="8.8" height="9.7"/><rect x="282" y="334.4" width="8.8" height="13.1"/><rect x="297.4" y="310" width="8.8" height="31"/><rect x="451.4" y="377.5" width="8.8" height="5.6"/><rect x="466.8" y="374.4" width="8.8" height="5.9"/><rect x="543.8" y="354.4" width="8.8" height="70.6"/><rect x="620.8" y="154" width="8.8" height="57.5"/><rect x="682.4" y="214.4" width="8.8" height="8.5"/><rect x="697.8" y="210.2" width="8.8" height="8.2"/><rect x="790.2" y="250.2" width="8.8" height="16.9"/><rect x="1005.8" y="423.8" width="8.8" height="13.5"/><rect x="1159.8" y="490.2" width="8.8" height="15.1"/><rect x="1175.2" y="478.4" width="8.8" height="19.7"/><rect x="1437" y="264.4" width="8.8" height="30"/><rect x="1452.4" y="239.1" width="8.8" height="41.2"/><rect x="1529.4" y="272.2" width="8.8" height="24.4"/><rect x="1637.2" y="332.5" width="8.8" height="6.2"/><rect x="1760.4" y="443.3" width="8.8" height="35"/><rect x="1822" y="481.2" width="8.8" height="11.2"/><rect x="1852.8" y="468.1" width="8.8" height="30"/><rect x="1868.2" y="421.3" width="8.8" height="61.2"/></g>
<g fill="#00ffff" stroke="#0b7a7a" stroke-width="1.15"><rect x="81.8" y="420.4" width="8.8" height="14.6"/><rect x="97.2" y="420.4" width="8.8" height="7"/><rect x="112.6" y="418.4" width="8.8" height="5.6"/><rect x="559.2" y="313.3" width="8.8" height="76.1"/><rect x="574.6" y="270.2" width="8.8" height="81.6"/><rect x="590" y="220.2" width="8.8" height="91.1"/><rect x="605.4" y="158.1" width="8.8" height="107.5"/><rect x="1206" y="471.5" width="8.8" height="16.9"/><rect x="1221.4" y="440.4" width="8.8" height="40"/><rect x="1883.6" y="404.9" width="8.8" height="47.6"/></g>
<g fill="#ffff00" stroke="#5f6a00" stroke-width="1.15"><rect x="128" y="411.6" width="8.8" height="10"/><rect x="143.4" y="388.5" width="8.8" height="27.7"/><rect x="158.8" y="359.6" width="8.8" height="43.3"/><rect x="174.2" y="345.4" width="8.8" height="35.2"/><rect x="189.6" y="337.5" width="8.8" height="25.5"/><rect x="205" y="334.4" width="8.8" height="15.1"/><rect x="1236.8" y="431.5" width="8.8" height="28.9"/><rect x="1252.2" y="426.2" width="8.8" height="20"/><rect x="1267.6" y="424" width="8.8" height="12.2"/><rect x="1283" y="407.5" width="8.8" height="21.9"/><rect x="1298.4" y="388.5" width="8.8" height="29.6"/><rect x="1313.8" y="381.6" width="8.8" height="21.3"/><rect x="1329.2" y="356.5" width="8.8" height="36.6"/><rect x="1344.6" y="342.2" width="8.8" height="31.8"/><rect x="1360" y="332" width="8.8" height="26.5"/><rect x="1375.4" y="332" width="8.8" height="13.6"/><rect x="1390.8" y="316.5" width="8.8" height="22"/><rect x="1406.2" y="286.5" width="8.8" height="41"/><rect x="1421.6" y="282.2" width="8.8" height="24.2"/></g>
<g fill="#e0523e" stroke="#6e251a" stroke-width="1.15"><rect x="251.2" y="324.4" width="8.8" height="25"/><rect x="266.6" y="337.5" width="8.8" height="20"/><rect x="328.2" y="325.6" width="8.8" height="8.8"/><rect x="343.6" y="329.8" width="8.8" height="5.6"/><rect x="359" y="333.5" width="8.8" height="2.8"/><rect x="374.4" y="334" width="8.8" height="2.5"/><rect x="482.2" y="377.5" width="8.8" height="8.8"/><rect x="636.2" y="182.5" width="8.8" height="10.6"/><rect x="651.6" y="188.4" width="8.8" height="40.1"/><rect x="667" y="208.1" width="8.8" height="28.2"/><rect x="713.2" y="214.8" width="8.8" height="20"/><rect x="805.6" y="259.4" width="8.8" height="4.1"/><rect x="944.2" y="414" width="8.8" height="14.1"/><rect x="959.6" y="421.5" width="8.8" height="6.6"/><rect x="975" y="425" width="8.8" height="3.3"/><rect x="990.4" y="427.2" width="8.8" height="20.2"/><rect x="1036.6" y="430.4" width="8.8" height="3.6"/><rect x="1067.4" y="431.5" width="8.8" height="18.9"/><rect x="1129" y="484.4" width="8.8" height="6"/><rect x="1467.8" y="259.1" width="8.8" height="16.5"/><rect x="1483.2" y="266.9" width="8.8" height="25.6"/><rect x="1498.6" y="280.2" width="8.8" height="29.1"/><rect x="1514" y="294.4" width="8.8" height="5.9"/><rect x="1544.8" y="284.4" width="8.8" height="19"/><rect x="1560.2" y="293.4" width="8.8" height="11"/><rect x="1575.6" y="299" width="8.8" height="6.5"/><rect x="1745" y="475.8" width="8.8" height="4.4"/><rect x="1775.8" y="460.4" width="8.8" height="7.8"/><rect x="1791.2" y="464.6" width="8.8" height="31"/><rect x="1806.6" y="480.2" width="8.8" height="23.2"/><rect x="1837.4" y="486.7" width="8.8" height="22.3"/><rect x="1914.4" y="428.2" width="8.8" height="9.3"/><rect x="1929.8" y="432.3" width="8.8" height="20.4"/></g>
<g fill="#8e1f14" stroke="#5e130c" stroke-width="1.15"><rect x="312.8" y="325.3" width="8.8" height="1.6"/><rect x="774.8" y="266.6" width="8.8" height="1.6"/><rect x="1021.2" y="430.2" width="8.8" height="1.6"/><rect x="1190.6" y="487.8" width="8.8" height="1.6"/></g>
<g fill="#800080" stroke="#4a004a" stroke-width="1.15"><rect x="389.8" y="335.3" width="8.8" height="34.1"/><rect x="728.6" y="224.8" width="8.8" height="36.8"/><rect x="744" y="243.5" width="8.8" height="33.4"/><rect x="759.4" y="260" width="8.8" height="12.5"/><rect x="1591" y="302.2" width="8.8" height="45.2"/></g>
<g fill="#2f6f4f" stroke="#1f4f37" stroke-width="1.15"><rect x="1052" y="431.2" width="8.8" height="1.6"/><rect x="1621.8" y="337.1" width="8.8" height="1.9"/></g>
<g fill="#2ec8b4" stroke="#0b7a6a" stroke-width="1.15"><rect x="1899" y="426.9" width="8.8" height="2.8"/></g>
</g>
<g clip-path="url(#ct)">
<path d="M26.7,679.7 L40,674.8 L55.4,669.5 L70.8,663.5 L86.2,657.6 L101.6,656.5 L117,656 L132.4,652.6 L147.8,644.3 L163.2,629.5 L178.6,622.3 L194,618.2 L209.4,615.9 L224.8,613.5 L240.2,613 L247.9,621.9 L240.2,621.9 L224.8,626.3 L209.4,631.9 L194,637.4 L178.6,642.8 L163.2,648.2 L147.8,653.7 L132.4,658.8 L117,662.6 L101.6,666.5 L86.2,670 L70.8,673.5 L55.4,676.5 L40,679.3ZM475,679.3 L486.6,681.8 L488.9,683.3 L486.6,682.7ZM544.6,690 L548.2,683.5 L563.6,655.1 L579,641.8 L594.4,630.1 L609.8,620 L625.2,615.9 L640.6,624.2 L648.3,632.2 L640.6,632.6 L625.2,643.4 L609.8,659.3 L594.4,671 L579,679.3 L563.6,685.2 L548.2,689.4ZM1000.4,719 L1010.2,715.2 L1025.6,709.4 L1041,711.1 L1056.4,710.2 L1071.8,713.6 L1073.8,714.3 L1071.8,714.4 L1056.4,714.4 L1041,715.6 L1025.6,717 L1010.2,718.2ZM1158.9,722.5 L1164.2,720.3 L1179.6,703.6 L1195,702.7 L1210.4,699.9 L1225.8,686 L1241.2,675.2 L1256.6,671.5 L1272,669.3 L1287.4,663.5 L1302.8,655.1 L1318.2,649.3 L1333.6,642.6 L1349,636.4 L1364.4,632.1 L1379.8,630.1 L1395.2,628.4 L1410.6,622.6 L1426,616.7 L1441.4,613.7 L1456.8,608.4 L1472.2,620 L1473,621 L1472.2,620.9 L1456.8,619.2 L1441.4,622.6 L1426,625.9 L1410.6,630.9 L1395.2,636.8 L1379.8,641.8 L1364.4,647.6 L1349,653.4 L1333.6,659.3 L1318.2,664.3 L1302.8,670.5 L1287.4,677.5 L1272,683.5 L1256.6,689.9 L1241.2,697.7 L1225.8,705.2 L1210.4,712.2 L1195,717.7 L1179.6,720.3 L1164.2,722.3ZM1760.6,714.1 L1764.8,710.2 L1780.2,703.6 L1795.6,710.2 L1811,715.6 L1826.4,710.2 L1841.8,708.2 L1857.2,701 L1872.6,682.7 L1888,671.8 L1903.4,672.2 L1918.8,678 L1934.2,682.7 L1934.2,682.7 L1918.8,686 L1903.4,690.5 L1888,696 L1872.6,701.9 L1857.2,706.9 L1841.8,710.2 L1826.4,712.7 L1811,716.1 L1795.6,717.7 L1780.2,716.6 L1764.8,714.4Z" fill="#008000" fill-opacity=".11"/>
<path d="M-6.5,678.5 L9.2,680 L24.6,680.5 L26.7,679.7 L24.6,679.8 L9.2,676.5 L-6.5,675ZM247.9,621.9 L255.6,631 L271,648.4 L286.4,646 L301.8,636 L317.2,636.8 L332.6,647 L348,651 L363.4,651.4 L378.8,651.4 L394.2,665.1 L409.6,685.2 L425,689.9 L440.4,688.5 L455.8,682.7 L471.2,678.5 L475,679.3 L471.2,678.2 L455.8,674.8 L440.4,671 L425,666 L409.6,660.1 L394.2,651.8 L378.8,645.9 L363.4,645.4 L348,644.3 L332.6,638.7 L317.2,634.1 L301.8,631 L286.4,628 L271,625 L255.6,622ZM488.9,683.3 L502,691.9 L517.4,705.2 L532.8,711.1 L544.6,690 L532.8,691.9 L517.4,689.9 L502,686.9ZM648.3,632.2 L656,640.1 L671.4,649.3 L686.8,648.1 L702.2,644.8 L717.6,651 L733,661.8 L748.4,668.8 L763.8,671.5 L779.2,670.5 L794.6,666 L810,665.1 L825.4,673.2 L840.8,682.7 L856.2,694.4 L871.6,700.2 L887,703.6 L902.4,711.9 L917.8,718.6 L933.2,719.4 L948.6,718.6 L964,719.2 L979.4,718.9 L994.8,721.1 L1000.4,719 L994.8,719.4 L979.4,716.8 L964,714.2 L948.6,711.4 L933.2,707.2 L917.8,701 L902.4,691.9 L887,685.2 L871.6,680.5 L856.2,677.2 L840.8,673.5 L825.4,669.3 L810,665.1 L794.6,662.6 L779.2,660.5 L763.8,658.1 L748.4,654.3 L733,648.4 L717.6,640.9 L702.2,635.9 L686.8,633 L671.4,632 L656,631.7ZM1073.8,714.3 L1087.2,719.4 L1102.6,726.9 L1118,728.1 L1133.4,723.6 L1148.8,726.6 L1158.9,722.5 L1148.8,722.8 L1133.4,720.6 L1118,718.2 L1102.6,715.2 L1087.2,713.9ZM1473,621 L1487.6,640.1 L1503,650.1 L1518.4,653.4 L1533.8,647.6 L1549.2,651 L1564.6,659.3 L1580,661.5 L1595.4,672.7 L1610.8,685 L1626.2,681.8 L1641.6,676 L1657,679 L1672.4,688.5 L1687.8,701.9 L1703.2,718.6 L1718.6,725.3 L1734,728.1 L1749.4,724.4 L1760.6,714.1 L1749.4,713.2 L1734,707.2 L1718.6,699.9 L1703.2,693.5 L1687.8,687.7 L1672.4,680.2 L1657,676 L1641.6,673.2 L1626.2,668.5 L1610.8,663.5 L1595.4,659.3 L1580,653.4 L1564.6,650.1 L1549.2,643.4 L1533.8,635.1 L1518.4,631.7 L1503,626.7 L1487.6,623.4Z" fill="#ff0000" fill-opacity=".11"/>
<path d="M0,615H1945.5" stroke="#38dc38" stroke-width="1.5" stroke-dasharray="4.3,1.3" fill="none"/>
<path d="M0,675.3H1945.5" stroke="#383838" stroke-width="1.7" stroke-dasharray="4,1.6" fill="none"/>
<path d="M0,735H1945.5" stroke="#f02828" stroke-width="1.4" stroke-dasharray="4.3,1.3" fill="none"/>
<path d="M-6.2,660.9 L9.2,661.1 L24.6,661.3 L40,661.5 L55.4,661.3 L70.8,660 L86.2,659.3 L101.6,660.1 L117,661 L132.4,661.3 L147.8,661.5 L163.2,660.9 L178.6,659.5 L194,657.8 L209.4,655.9 L224.8,653.6 L240.2,651.6 L255.6,650.3 L271,649.8 L286.4,649.9 L301.8,650 L317.2,650.1 L332.6,650.2 L348,650.4 L363.4,650.6 L378.8,651 L394.2,652.2 L409.6,653.5 L425,654.3 L440.4,654.6 L455.8,654.6 L471.2,654.6 L486.6,654.6 L502,655.6 L517.4,656.8 L532.8,657.1 L548.2,657.3 L563.6,656.3 L579,655.1 L594.4,654.4 L609.8,653.2 L625.2,651.8 L640.6,651.8 L656,651.9 L671.4,652.1 L686.8,652.4 L702.2,653.2 L717.6,654.2 L733,655.8 L748.4,657.3 L763.8,658.9 L779.2,660.2 L794.6,661.1 L810,662 L825.4,662.8 L840.8,663.7 L856.2,664.9 L871.6,666.4 L887,668.1 L902.4,669.9 L917.8,671.7 L933.2,672.6 L948.6,673.2 L964,673.9 L979.4,675.1 L994.8,676.8 L1010.2,677 L1025.6,677 L1041,677.1 L1056.4,677.2 L1071.8,679.4 L1087.2,681.5 L1102.6,683.6 L1118,687.2 L1133.4,690.7 L1148.8,693.5 L1164.2,695.6 L1179.6,697.5 L1195,699.6 L1210.4,700.6 L1225.8,701 L1241.2,701.1 L1256.6,701.3 L1272,701.4 L1287.4,701.4 L1302.8,701.3 L1318.2,700.8 L1333.6,700 L1349,698.6 L1364.4,696.8 L1379.8,695 L1395.2,693 L1410.6,690.2 L1426,686.9 L1441.4,683.7 L1456.8,680.6 L1472.2,677.9 L1487.6,675.6 L1503,673.5 L1518.4,671.6 L1533.8,669.8 L1549.2,668.2 L1564.6,666.7 L1580,665.6 L1595.4,664.5 L1610.8,662.8 L1626.2,660.8 L1641.6,659.4 L1657,658.1 L1672.4,657.6 L1687.8,657.8 L1703.2,658.3 L1718.6,658.9 L1734,660.1 L1749.4,661.4 L1764.8,662.5 L1780.2,663.4 L1795.6,664.6 L1811,666.5 L1826.4,668.5 L1841.8,670.1 L1857.2,671.4 L1872.6,672.6 L1888,673.7 L1903.4,675.1 L1918.8,677 L1934.2,679.3" fill="none" stroke="#f7a45c" stroke-width="1.8" stroke-linejoin="round"/>
<path d="M-6.2,635 L9.2,634.9 L24.6,634.8 L40,634.7 L55.4,635 L70.8,636.4 L86.2,635 L101.6,636.1 L117,637.6 L132.4,638.7 L147.8,636.6 L163.2,633.4 L178.6,630 L194,626.3 L209.4,623 L224.8,619.7 L240.2,616.8 L255.6,616.7 L271,616.7 L286.4,616.7 L301.8,616.7 L317.2,616.7 L332.6,617 L348,617.7 L363.4,618.3 L378.8,618.3 L394.2,618 L409.6,617.6 L425,617 L440.4,616.6 L455.8,616.4 L471.2,616.2 L486.6,615.9 L502,615.3 L517.4,614.5 L532.8,613.7 L548.2,613.1 L563.6,612.4 L579,611.7 L594.4,610.4 L609.8,607.1 L625.2,604.6 L640.6,603.7 L656,603.7 L671.4,604.3 L686.8,605.7 L702.2,607.4 L717.6,609.8 L733,613 L748.4,616.7 L763.8,619.9 L779.2,620.5 L794.6,621.2 L810,622.9 L825.4,624.3 L840.8,625.1 L856.2,625.8 L871.6,626.4 L887,626.4 L902.4,626.3 L917.8,625.4 L933.2,624.7 L948.6,624.2 L964,623.2 L979.4,622.6 L994.8,622.6 L1010.2,622.6 L1025.6,622.6 L1041,622.6 L1056.4,622.6 L1071.8,623.6 L1087.2,625.7 L1102.6,629.4 L1118,634.2 L1133.4,639.8 L1148.8,645.9 L1164.2,650.7 L1179.6,655 L1195,659.2 L1210.4,663.1 L1225.8,666.6 L1241.2,668.5 L1256.6,668.4 L1272,668 L1287.4,666.4 L1302.8,664.3 L1318.2,661.7 L1333.6,658.1 L1349,653.7 L1364.4,648.8 L1379.8,643.5 L1395.2,637.9 L1410.6,632 L1426,626.1 L1441.4,620.2 L1456.8,615.2 L1472.2,611.7 L1487.6,610.5 L1503,609.6 L1518.4,608.7 L1533.8,607.3 L1549.2,606.4 L1564.6,606.4 L1580,606.4 L1595.4,606.5 L1610.8,607.3 L1626.2,608.5 L1641.6,610.5 L1657,612.7 L1672.4,614.2 L1687.8,613.7 L1703.2,612.7 L1718.6,610.7 L1734,609.5 L1749.4,608.5 L1764.8,607.5 L1780.2,607 L1795.6,607 L1811,607 L1826.4,608.5 L1841.8,609.7 L1857.2,610.8 L1872.6,612.7 L1888,615.5 L1903.4,618.7 L1918.8,622.5 L1934.2,626.8" fill="none" stroke="#5050d8" stroke-width="1.95" stroke-linejoin="round"/>
<path d="M-6.2,685.5 L9.2,687 L24.6,688.2 L40,687.8 L55.4,686.6 L70.8,686 L86.2,686 L101.6,686 L117,685.3 L132.4,684.7 L147.8,685.3 L163.2,686.3 L178.6,687.6 L194,688.2 L209.4,688.2 L224.8,687.2 L240.2,686.1 L255.6,685 L271,684.1 L286.4,683.3 L301.8,683 L317.2,683.1 L332.6,683.2 L348,685.1 L363.4,685.2 L378.8,685.2 L394.2,686.9 L409.6,689.6 L425,692 L440.4,693.5 L455.8,693.7 L471.2,693.7 L486.6,693.9 L502,695.2 L517.4,698.6 L532.8,701 L548.2,700.7 L563.6,700.1 L579,699.5 L594.4,699.4 L609.8,699.4 L625.2,699.4 L640.6,698 L656,698 L671.4,699.4 L686.8,699.4 L702.2,699.4 L717.6,699.4 L733,699.4 L748.4,699.4 L763.8,699.4 L779.2,699.6 L794.6,700.5 L810,700.5 L825.4,701.2 L840.8,702.7 L856.2,705.1 L871.6,708.2 L887,711.1 L902.4,714.6 L917.8,719 L933.2,721.1 L948.6,722.6 L964,724.2 L979.4,727.5 L994.8,730.5 L1010.2,732.1 L1025.6,732.8 L1041,732.8 L1056.4,732.8 L1071.8,735.1 L1087.2,738.1 L1102.6,740.7 L1118,742 L1133.4,742 L1148.8,742 L1164.2,741.8 L1179.6,740.5 L1195,740.2 L1210.4,739.1 L1225.8,737.2 L1241.2,736.6 L1256.6,736.6 L1272,736.6 L1287.4,737.6 L1302.8,738.3 L1318.2,738.3 L1333.6,739.9 L1349,742.2 L1364.4,743.9 L1379.8,745.3 L1395.2,746.7 L1410.6,747.8 L1426,747.5 L1441.4,747 L1456.8,746.5 L1472.2,744.8 L1487.6,742.3 L1503,738.6 L1518.4,735.1 L1533.8,732 L1549.2,729 L1564.6,726.2 L1580,723.7 L1595.4,721.8 L1610.8,719.2 L1626.2,714.5 L1641.6,709.9 L1657,705.9 L1672.4,702.2 L1687.8,702.2 L1703.2,705.5 L1718.6,708.6 L1734,712.5 L1749.4,715.5 L1764.8,717.4 L1780.2,720.3 L1795.6,722.5 L1811,725.4 L1826.4,728.5 L1841.8,731.1 L1857.2,732.3 L1872.6,732.3 L1888,732.3 L1903.4,732.3 L1918.8,732.3 L1934.2,730.6" fill="none" stroke="#5050d8" stroke-width="1.95" stroke-linejoin="round"/>
<path d="M-6.5,675 L9.2,676.5 L24.6,679.8 L40,679.3 L55.4,676.5 L70.8,673.5 L86.2,670 L101.6,666.5 L117,662.6 L132.4,658.8 L147.8,653.7 L163.2,648.2 L178.6,642.8 L194,637.4 L209.4,631.9 L224.8,626.3 L240.2,621.9 L255.6,622 L271,625 L286.4,628 L301.8,631 L317.2,634.1 L332.6,638.7 L348,644.3 L363.4,645.4 L378.8,645.9 L394.2,651.8 L409.6,660.1 L425,666 L440.4,671 L455.8,674.8 L471.2,678.2 L486.6,682.7 L502,686.9 L517.4,689.9 L532.8,691.9 L548.2,689.4 L563.6,685.2 L579,679.3 L594.4,671 L609.8,659.3 L625.2,643.4 L640.6,632.6 L656,631.7 L671.4,632 L686.8,633 L702.2,635.9 L717.6,640.9 L733,648.4 L748.4,654.3 L763.8,658.1 L779.2,660.5 L794.6,662.6 L810,665.1 L825.4,669.3 L840.8,673.5 L856.2,677.2 L871.6,680.5 L887,685.2 L902.4,691.9 L917.8,701 L933.2,707.2 L948.6,711.4 L964,714.2 L979.4,716.8 L994.8,719.4 L1010.2,718.2 L1025.6,717 L1041,715.6 L1056.4,714.4 L1071.8,714.4 L1087.2,713.9 L1102.6,715.2 L1118,718.2 L1133.4,720.6 L1148.8,722.8 L1164.2,722.3 L1179.6,720.3 L1195,717.7 L1210.4,712.2 L1225.8,705.2 L1241.2,697.7 L1256.6,689.9 L1272,683.5 L1287.4,677.5 L1302.8,670.5 L1318.2,664.3 L1333.6,659.3 L1349,653.4 L1364.4,647.6 L1379.8,641.8 L1395.2,636.8 L1410.6,630.9 L1426,625.9 L1441.4,622.6 L1456.8,619.2 L1472.2,620.9 L1487.6,623.4 L1503,626.7 L1518.4,631.7 L1533.8,635.1 L1549.2,643.4 L1564.6,650.1 L1580,653.4 L1595.4,659.3 L1610.8,663.5 L1626.2,668.5 L1641.6,673.2 L1657,676 L1672.4,680.2 L1687.8,687.7 L1703.2,693.5 L1718.6,699.9 L1734,707.2 L1749.4,713.2 L1764.8,714.4 L1780.2,716.6 L1795.6,717.7 L1811,716.1 L1826.4,712.7 L1841.8,710.2 L1857.2,706.9 L1872.6,701.9 L1888,696 L1903.4,690.5 L1918.8,686 L1934.2,682.7" fill="none" stroke="#e8464a" stroke-width="2.0" stroke-linejoin="round"/>
<path d="M-6.5,678.5 L9.2,680 L24.6,680.5 L40,674.8 L55.4,669.5 L70.8,663.5 L86.2,657.6 L101.6,656.5 L117,656 L132.4,652.6 L147.8,644.3 L163.2,629.5 L178.6,622.3 L194,618.2 L209.4,615.9 L224.8,613.5 L240.2,613 L255.6,631 L271,648.4 L286.4,646 L301.8,636 L317.2,636.8 L332.6,647 L348,651 L363.4,651.4 L378.8,651.4 L394.2,665.1 L409.6,685.2 L425,689.9 L440.4,688.5 L455.8,682.7 L471.2,678.5 L486.6,681.8 L502,691.9 L517.4,705.2 L532.8,711.1 L548.2,683.5 L563.6,655.1 L579,641.8 L594.4,630.1 L609.8,620 L625.2,615.9 L640.6,624.2 L656,640.1 L671.4,649.3 L686.8,648.1 L702.2,644.8 L717.6,651 L733,661.8 L748.4,668.8 L763.8,671.5 L779.2,670.5 L794.6,666 L810,665.1 L825.4,673.2 L840.8,682.7 L856.2,694.4 L871.6,700.2 L887,703.6 L902.4,711.9 L917.8,718.6 L933.2,719.4 L948.6,718.6 L964,719.2 L979.4,718.9 L994.8,721.1 L1010.2,715.2 L1025.6,709.4 L1041,711.1 L1056.4,710.2 L1071.8,713.6 L1087.2,719.4 L1102.6,726.9 L1118,728.1 L1133.4,723.6 L1148.8,726.6 L1164.2,720.3 L1179.6,703.6 L1195,702.7 L1210.4,699.9 L1225.8,686 L1241.2,675.2 L1256.6,671.5 L1272,669.3 L1287.4,663.5 L1302.8,655.1 L1318.2,649.3 L1333.6,642.6 L1349,636.4 L1364.4,632.1 L1379.8,630.1 L1395.2,628.4 L1410.6,622.6 L1426,616.7 L1441.4,613.7 L1456.8,608.4 L1472.2,620 L1487.6,640.1 L1503,650.1 L1518.4,653.4 L1533.8,647.6 L1549.2,651 L1564.6,659.3 L1580,661.5 L1595.4,672.7 L1610.8,685 L1626.2,681.8 L1641.6,676 L1657,679 L1672.4,688.5 L1687.8,701.9 L1703.2,718.6 L1718.6,725.3 L1734,728.1 L1749.4,724.4 L1764.8,710.2 L1780.2,703.6 L1795.6,710.2 L1811,715.6 L1826.4,710.2 L1841.8,708.2 L1857.2,701 L1872.6,682.7 L1888,671.8 L1903.4,672.2 L1918.8,678 L1934.2,682.7" fill="none" stroke="#3f8f46" stroke-width="2.0" stroke-linejoin="round"/>
<circle cx="86.2" cy="737" r="4.2" fill="#00ffff"/>
<circle cx="132.4" cy="737" r="4.2" fill="#ffff00"/>
<circle cx="394.2" cy="737" r="4.2" fill="#800080"/>
<circle cx="409.6" cy="737" r="4.2" fill="#ff00ff"/>
<circle cx="502" cy="737" r="4.2" fill="#ff00ff"/>
<circle cx="563.6" cy="737" r="4.2" fill="#00ffff"/>
<circle cx="733" cy="737" r="4.2" fill="#800080"/>
<circle cx="779.2" cy="737" r="4.2" fill="#ff00ff"/>
<circle cx="825.4" cy="737" r="4.2" fill="#ff00ff"/>
<circle cx="1087.2" cy="737" r="4.2" fill="#ff00ff"/>
<circle cx="1148.8" cy="737" r="4.2" fill="#ff00ff"/>
<circle cx="1210.4" cy="737" r="4.2" fill="#00ffff"/>
<circle cx="1241.2" cy="737" r="4.2" fill="#ffff00"/>
<circle cx="1595.4" cy="737" r="4.2" fill="#800080"/>
<circle cx="1610.8" cy="737" r="4.2" fill="#ff00ff"/>
<circle cx="1657" cy="737" r="4.2" fill="#ff00ff"/>
<circle cx="1888" cy="737" r="4.2" fill="#00ffff"/>
</g>
<g clip-path="url(#cd)">
<path d="M22.5,837.3h4.2V845.2h-4.2ZM37.9,837.3h4.2V841.8h-4.2ZM68.7,833.5h4.2V837.3h-4.2ZM84.1,831h4.2V837.3h-4.2ZM99.5,829.3h4.2V837.3h-4.2ZM114.9,828.5h4.2V837.3h-4.2ZM130.3,826.8h4.2V837.3h-4.2ZM145.7,821.8h4.2V837.3h-4.2ZM161.1,815.1h4.2V837.3h-4.2ZM176.5,808.4h4.2V837.3h-4.2ZM191.9,804.8h4.2V837.3h-4.2ZM207.3,802.6h4.2V837.3h-4.2ZM222.7,800.4h4.2V837.3h-4.2ZM299.7,813.1h4.2V837.3h-4.2ZM453.7,837.3h4.2V848.5h-4.2ZM469.1,837.3h4.2V846.5h-4.2ZM546.1,837.3h4.2V846.9h-4.2ZM561.5,831.8h4.2V837.3h-4.2ZM576.9,814.3h4.2V837.3h-4.2ZM592.3,795.9h4.2V837.3h-4.2ZM607.7,775.9h4.2V837.3h-4.2ZM623.1,765.9h4.2V837.3h-4.2ZM792.5,833.8h4.2V837.3h-4.2ZM946.5,837.3h4.2V888.1h-4.2ZM961.9,837.3h4.2V885.6h-4.2ZM977.3,837.3h4.2V882.8h-4.2ZM992.7,837.3h4.2V881.6h-4.2ZM1008.1,837.3h4.2V874.9h-4.2ZM1023.5,837.3h4.2V871.6h-4.2ZM1038.9,837.3h4.2V868.2h-4.2ZM1054.3,837.3h4.2V864.9h-4.2ZM1131.3,837.3h4.2V871.9h-4.2ZM1162.1,837.3h4.2V869.9h-4.2ZM1177.5,837.3h4.2V863.5h-4.2ZM1192.9,837.3h4.2V860.5h-4.2ZM1208.3,837.3h4.2V853.9h-4.2ZM1223.7,837.3h4.2V843.2h-4.2ZM1254.5,831.5h4.2V837.3h-4.2ZM1269.9,828.1h4.2V837.3h-4.2ZM1285.3,823.5h4.2V837.3h-4.2ZM1300.7,817.6h4.2V837.3h-4.2ZM1316.1,814.3h4.2V837.3h-4.2ZM1331.5,808.8h4.2V837.3h-4.2ZM1346.9,803.4h4.2V837.3h-4.2ZM1362.3,799.8h4.2V837.3h-4.2ZM1377.7,799.6h4.2V837.3h-4.2ZM1393.1,798.8h4.2V837.3h-4.2ZM1408.5,793.7h4.2V837.3h-4.2ZM1423.9,792.1h4.2V837.3h-4.2ZM1439.3,789.2h4.2V837.3h-4.2ZM1454.7,785.4h4.2V837.3h-4.2ZM1531.7,814.3h4.2V837.3h-4.2ZM1639.5,837.3h4.2V845.5h-4.2ZM1747.3,837.3h4.2V891.6h-4.2ZM1762.7,837.3h4.2V881.9h-4.2ZM1778.1,837.3h4.2V878.6h-4.2ZM1824.3,837.3h4.2V874.9h-4.2ZM1855.1,837.3h4.2V865.5h-4.2ZM1870.5,837.3h4.2V850.2h-4.2ZM1901.3,834.8h4.2V837.3h-4.2Z" fill="#4ca24c"/>
<path d="M7.1,837.3h4.2V846.5h-4.2ZM238.1,800.4h4.2V837.3h-4.2ZM253.5,808.4h4.2V837.3h-4.2ZM268.9,815.1h4.2V837.3h-4.2ZM284.3,816h4.2V837.3h-4.2ZM315.1,815.1h4.2V837.3h-4.2ZM330.5,819.3h4.2V837.3h-4.2ZM345.9,822.6h4.2V837.3h-4.2ZM361.3,825.1h4.2V837.3h-4.2ZM376.7,826.5h4.2V837.3h-4.2ZM392.1,835.2h4.2V837.3h-4.2ZM407.5,837.3h4.2V843.5h-4.2ZM422.9,837.3h4.2V847.7h-4.2ZM438.3,837.3h4.2V849.7h-4.2ZM484.5,837.3h4.2V847.7h-4.2ZM499.9,837.3h4.2V851h-4.2ZM515.3,837.3h4.2V859.4h-4.2ZM530.7,837.3h4.2V861.5h-4.2ZM638.5,769.2h4.2V837.3h-4.2ZM653.9,781.7h4.2V837.3h-4.2ZM669.3,792.6h4.2V837.3h-4.2ZM684.7,796.8h4.2V837.3h-4.2ZM700.1,800.1h4.2V837.3h-4.2ZM715.5,808.4h4.2V837.3h-4.2ZM730.9,819.3h4.2V837.3h-4.2ZM746.3,828.5h4.2V837.3h-4.2ZM761.7,834.3h4.2V837.3h-4.2ZM823.3,837.3h4.2V840.2h-4.2ZM838.7,837.3h4.2V848.5h-4.2ZM854.1,837.3h4.2V859.4h-4.2ZM869.5,837.3h4.2V864.4h-4.2ZM884.9,837.3h4.2V871.9h-4.2ZM900.3,837.3h4.2V880.2h-4.2ZM915.7,837.3h4.2V888.3h-4.2ZM931.1,837.3h4.2V888.3h-4.2ZM1069.7,837.3h4.2V864.9h-4.2ZM1085.1,837.3h4.2V866.6h-4.2ZM1100.5,837.3h4.2V872.7h-4.2ZM1115.9,837.3h4.2V873.9h-4.2ZM1146.7,837.3h4.2V876.1h-4.2ZM1470.1,793.1h4.2V837.3h-4.2ZM1485.5,802.6h4.2V837.3h-4.2ZM1500.9,810.1h4.2V837.3h-4.2ZM1516.3,815.1h4.2V837.3h-4.2ZM1547.1,820.1h4.2V837.3h-4.2ZM1562.5,824.3h4.2V837.3h-4.2ZM1577.9,827.6h4.2V837.3h-4.2ZM1608.7,837.3h4.2V845.7h-4.2ZM1624.1,837.3h4.2V846.5h-4.2ZM1654.9,837.3h4.2V847.7h-4.2ZM1670.3,837.3h4.2V852.2h-4.2ZM1685.7,837.3h4.2V863.5h-4.2ZM1701.1,837.3h4.2V879.4h-4.2ZM1716.5,837.3h4.2V888.3h-4.2ZM1731.9,837.3h4.2V893.6h-4.2ZM1793.5,837.3h4.2V879.4h-4.2ZM1808.9,837.3h4.2V880.6h-4.2ZM1839.7,837.3h4.2V874.9h-4.2ZM1916.7,834.8h4.2V837.3h-4.2ZM1932.1,837.3h4.2V838.5h-4.2Z" fill="#f4524c"/>
<path d="M0,837.3H1945.5" stroke="#7a7a7a" stroke-width="1.8" stroke-dasharray="9,3.5" fill="none"/>
<path d="M-6.5,845 L9.2,846.5 L24.6,845.2 L40,841.8 L55.4,836.8 L70.8,833.5 L86.2,831 L101.6,829.3 L117,828.5 L132.4,826.8 L147.8,821.8 L163.2,815.1 L178.6,808.4 L194,804.8 L209.4,802.6 L224.8,800.4 L240.2,800.4 L255.6,808.4 L271,815.1 L286.4,816 L301.8,813.1 L317.2,815.1 L332.6,819.3 L348,822.6 L363.4,825.1 L378.8,826.5 L394.2,835.2 L409.6,843.5 L425,847.7 L440.4,849.7 L455.8,848.5 L471.2,846.5 L486.6,847.7 L502,851 L517.4,859.4 L532.8,861.5 L548.2,846.9 L563.6,831.8 L579,814.3 L594.4,795.9 L609.8,775.9 L625.2,765.9 L640.6,769.2 L656,781.7 L671.4,792.6 L686.8,796.8 L702.2,800.1 L717.6,808.4 L733,819.3 L748.4,828.5 L763.8,834.3 L779.2,836.5 L794.6,833.8 L810,836.5 L825.4,840.2 L840.8,848.5 L856.2,859.4 L871.6,864.4 L887,871.9 L902.4,880.2 L917.8,888.3 L933.2,888.3 L948.6,888.1 L964,885.6 L979.4,882.8 L994.8,881.6 L1010.2,874.9 L1025.6,871.6 L1041,868.2 L1056.4,864.9 L1071.8,864.9 L1087.2,866.6 L1102.6,872.7 L1118,873.9 L1133.4,871.9 L1148.8,876.1 L1164.2,869.9 L1179.6,863.5 L1195,860.5 L1210.4,853.9 L1225.8,843.2 L1241.2,836.8 L1256.6,831.5 L1272,828.1 L1287.4,823.5 L1302.8,817.6 L1318.2,814.3 L1333.6,808.8 L1349,803.4 L1364.4,799.8 L1379.8,799.6 L1395.2,798.8 L1410.6,793.7 L1426,792.1 L1441.4,789.2 L1456.8,785.4 L1472.2,793.1 L1487.6,802.6 L1503,810.1 L1518.4,815.1 L1533.8,814.3 L1549.2,820.1 L1564.6,824.3 L1580,827.6 L1595.4,836.8 L1610.8,845.7 L1626.2,846.5 L1641.6,845.5 L1657,847.7 L1672.4,852.2 L1687.8,863.5 L1703.2,879.4 L1718.6,888.3 L1734,893.6 L1749.4,891.6 L1764.8,881.9 L1780.2,878.6 L1795.6,879.4 L1811,880.6 L1826.4,874.9 L1841.8,874.9 L1857.2,865.5 L1872.6,850.2 L1888,838 L1903.4,834.8 L1918.8,834.8 L1934.2,838.5" fill="none" stroke="#4a40f0" stroke-width="1.9" stroke-linejoin="round"/>
</g>
<path d="M0,595.5H2000M0,757H2000M0,902.5H1945.5M1945.5,76V903.2" stroke="#5e5e5e" stroke-width="1.25" fill="none"/>
<path d="M1945.5,101h4M1945.5,171.4h4M1945.5,241.7h4M1945.5,312h4M1945.5,382.3h4M1945.5,452.3h4M1945.5,522.3h4M1945.5,592.5h4M1945.5,611h4M1945.5,654h4M1945.5,697h4M1945.5,740h4M1945.5,776h4M1945.5,838h4M1945.5,899.5h4M86,902.5v4M178.4,902.5v4M270.8,902.5v4M363.2,902.5v4M455.6,902.5v4M548,902.5v4M640.4,902.5v4M732.8,902.5v4M825.2,902.5v4M917.6,902.5v4M1010,902.5v4M1102.4,902.5v4M1194.8,902.5v4M1287.2,902.5v4M1379.6,902.5v4M1472,902.5v4M1564.4,902.5v4M1656.8,902.5v4M1749.2,902.5v4M1841.6,902.5v4M1934,902.5v4" stroke="#555" stroke-width="1.2" fill="none"/>
<clipPath id="cr1"><rect x="1945.5" y="76" width="60" height="519.0"/></clipPath>
<clipPath id="cr2"><rect x="1945.5" y="595.5" width="60" height="161.0"/></clipPath>
<clipPath id="cr3"><rect x="1945.5" y="757" width="60" height="144.5"/></clipPath>
<g clip-path="url(#cr1)">
<text class="ax" x="1953.2" y="105.8">1.13550</text>
<text class="ax" x="1953.2" y="176.2">1.13500</text>
<text class="ax" x="1953.2" y="246.5">1.13450</text>
<text class="ax" x="1953.2" y="316.8">1.13400</text>
<text class="ax" x="1953.2" y="387.1">1.13350</text>
<text class="ax" x="1953.2" y="457.1">1.13300</text>
<text class="ax" x="1953.2" y="527.1">1.13250</text>
<text class="ax" x="1953.2" y="597.3">1.13200</text>
</g><g clip-path="url(#cr2)">
<text class="ax" x="1953.2" y="615.8">80.0000</text>
<text class="ax" x="1953.2" y="658.8">60.0000</text>
<text class="ax" x="1953.2" y="701.8">40.0000</text>
<text class="ax" x="1953.2" y="744.8">20.0000</text>
</g><g clip-path="url(#cr3)">
<text class="ax" x="1953.2" y="780.8">0.0005</text>
<text class="ax" x="1953.2" y="842.8">0.0000</text>
<text class="ax" x="1952.6" y="905.5">-0.0005</text>
</g>
<rect x="1946" y="443.5" width="54" height="17.2" fill="#df5340"/>
<path d="M1946,452.4h4" stroke="#fff" stroke-width="1.1" />
<text class="ax" x="1953" y="456.6" style="fill:#fff;font-size:12px">1.13300</text>
<rect x="1962.5" y="462" width="37.5" height="18" fill="#df5340"/>
<text class="ax" x="1966" y="475.4" style="fill:#fff;font-size:12px">04:32</text>
<g clip-path="url(#cx)">
<text class="tm" x="-5.8" y="918.8" font-weight="bold">07:00</text>
<text class="tm" x="86.6" y="918.8">07:30</text>
<text class="tm" x="179" y="918.8" font-weight="bold">08:00</text>
<text class="tm" x="271.4" y="918.8">08:30</text>
<text class="tm" x="363.8" y="918.8" font-weight="bold">09:00</text>
<text class="tm" x="456.2" y="918.8">09:30</text>
<text class="tm" x="548.6" y="918.8" font-weight="bold">10:00</text>
<text class="tm" x="641" y="918.8">10:30</text>
<text class="tm" x="733.4" y="918.8" font-weight="bold">11:00</text>
<text class="tm" x="825.8" y="918.8">11:30</text>
<text class="tm" x="918.2" y="918.8" font-weight="bold">12:00</text>
<text class="tm" x="1010.6" y="918.8">12:30</text>
<text class="tm" x="1103" y="918.8" font-weight="bold">13:00</text>
<text class="tm" x="1195.4" y="918.8">13:30</text>
<text class="tm" x="1287.8" y="918.8" font-weight="bold">14:00</text>
<text class="tm" x="1380.2" y="918.8">14:30</text>
<text class="tm" x="1472.6" y="918.8" font-weight="bold">15:00</text>
<text class="tm" x="1565" y="918.8">15:30</text>
<text class="tm" x="1657.4" y="918.8" font-weight="bold">16:00</text>
<text class="tm" x="1749.8" y="918.8">16:30</text>
<text class="tm" x="1842.2" y="918.8" font-weight="bold">17:00</text>
<text class="tm" x="1934.6" y="918.8">17:30</text>
</g>
<text class="lg" x="8.8" y="99.6" font-weight="bold" textLength="268" lengthAdjust="spacingAndGlyphs">Euro Fx/U.S. Dollar, 5, FXCM, Heikin Ashi</text>
<text class="lg" x="8.2" y="118.2" textLength="694.5" lengthAdjust="spacingAndGlyphs">TA-MAs-v1.4.2F (close, 11, 23, 59, 211, 1, 3, false, false, false, false, false, false, false, false, true, false, false)</text>
<text class="lg" x="8.3" y="137" textLength="61" lengthAdjust="spacingAndGlyphs">PAC (5, 5)</text>
<text class="lg" x="8.6" y="619.2" textLength="543.5" lengthAdjust="spacingAndGlyphs">TDIALT v0.1 by JustUncleL (13, 34, 2, 7, 5, 22, 78, 2, false, true, true, true, 5, 15, 1, true)</text>
<text class="lg" x="9.2" y="781" textLength="152.5" lengthAdjust="spacingAndGlyphs">2 colour MACD (5, 15, 1)</text>
<path d="M-60,804.3H309A46,46 0 0 1 355,850.3V1000H-60Z" fill="#000" fill-opacity=".525"/>
<circle cx="54" cy="840.8" r="21" fill="#27a6e8"/>
<path d="M41.2,842.3 L62.9,833 Q64.4,832.5 64.1,834.2 L60.9,850.6 Q60.5,852.2 59.1,851.2 L50.8,845.4 L57.6,838.4 Q58,837.7 57.2,838.2 L49.4,844.6 L45,844.1 Q40.2,843.2 41.2,842.3Z" fill="#fff"/>
<circle cx="51.5" cy="896.4" r="23.4" fill="#ff0000"/>
<circle cx="51.5" cy="896.4" r="14.8" fill="none" stroke="#fff" stroke-width="2.1"/>
<path d="M46.9,890.4L58.2,896.4L46.9,902.4Z" fill="#fff"/>
<circle cx="51.5" cy="954.1" r="23.4" fill="#3d6db7"/>
<g fill="none" stroke="#fff" stroke-width="1.15"><circle cx="51.5" cy="954.1" r="15.2"/><ellipse cx="51.5" cy="954.1" rx="6.6" ry="15.2"/><path d="M51.5,938.9V969.3M36.3,954.1H66.7M38.6,946Q51.5,949.4 64.4,946M38.6,962.2Q51.5,958.8 64.4,962.2"/></g>
<text class="ov" x="85" y="850" textLength="181.5" lengthAdjust="spacingAndGlyphs">RMCHARTS_IR</text>
<text class="ov" x="85" y="905.5" textLength="144.5" lengthAdjust="spacingAndGlyphs">RMCHARTS</text>
<text class="ov" x="85" y="964.7" textLength="255.5" lengthAdjust="spacingAndGlyphs">WWW.RMCHARTS.IR</text>
</svg></body></html>
